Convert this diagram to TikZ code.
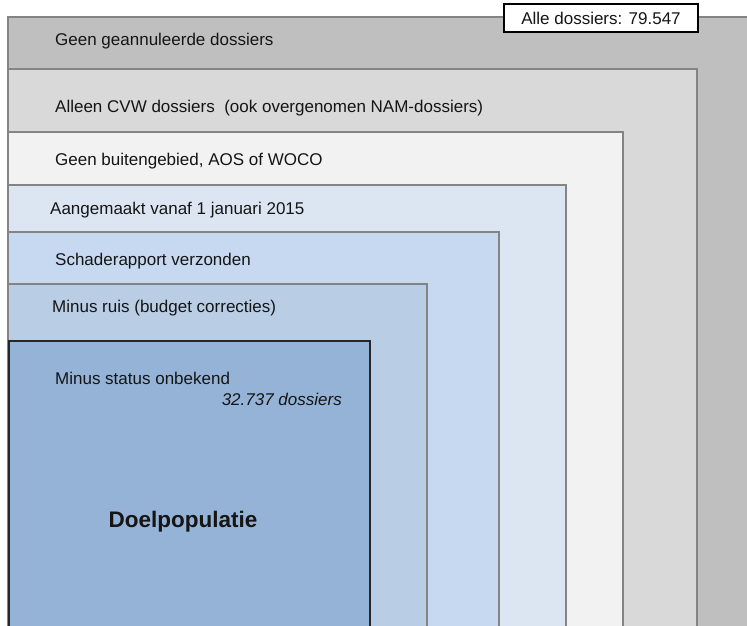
\documentclass[tikz,border=0pt]{standalone}
\usepackage{fontspec}
\setmainfont{Liberation Sans}
\definecolor{cA}{HTML}{BFBFBF}
\definecolor{cB}{HTML}{D9D9D9}
\definecolor{cC}{HTML}{F2F2F2}
\definecolor{cD}{HTML}{DCE6F2}
\definecolor{cE}{HTML}{C6D9F1}
\definecolor{cF}{HTML}{B9CDE5}
\definecolor{cG}{HTML}{95B3D7}
\definecolor{edge}{HTML}{848484}
\definecolor{txt}{HTML}{151515}
\begin{document}
\begin{tikzpicture}[x=1pt,y=-1pt,
  level/.style={draw=edge, line width=1.6pt},
  lbl/.style={anchor=west, inner sep=0pt, text=txt, font=\fontsize{17}{20}\selectfont},
]
\useasboundingbox (0,0) rectangle (747,626);
\fill[white] (0,0) rectangle (747,626);
\begin{scope}
\clip (0,0) rectangle (747,626);
\filldraw[level, fill=cA] (8,17) rectangle (780,700);
\filldraw[level, fill=cB] (8,69) rectangle (697,700);
\filldraw[level, fill=cC] (8,132) rectangle (623,700);
\filldraw[level, fill=cD] (8,185) rectangle (566,700);
\filldraw[level, fill=cE] (8,232) rectangle (499,700);
\filldraw[level, fill=cF] (8,284) rectangle (427,700);
\filldraw[draw=black!85, line width=2pt, fill=cG] (9,341) rectangle (370,700);
\end{scope}

\node[lbl] (t1) at (55,41) {Geen geannuleerde dossiers};
\node[lbl] (t2) at (55,108) {Alleen CVW dossiers\ \ (ook overgenomen NAM-dossiers)};
\node[lbl] (t3) at (55,161) {Geen buitengebied, AOS of WOCO};
\node[lbl] (t4) at (50,210) {Aangemaakt vanaf 1 januari 2015};
\node[lbl] (t5) at (55,261) {Schaderapport verzonden};
\node[lbl] (t6) at (52,308) {Minus ruis (budget correcties)};
\node[lbl] (t7) at (55,378) {Minus status onbekend};
\node[lbl, anchor=east, font=\fontsize{17}{20}\selectfont\itshape] (n7) at (342,399) {32.737 dossiers};
\node[inner sep=0pt, text=txt, font=\fontsize{22.5}{26}\selectfont\bfseries] (doel) at (183,522) {Doelpopulatie};

\node[draw=black, fill=white, line width=1.2pt, minimum width=194pt, minimum height=28pt, inner sep=0pt, text=txt, font=\fontsize{17}{20}\selectfont] (alle) at (601,18) {Alle dossiers: 79.547};
\end{tikzpicture}
\end{document}
